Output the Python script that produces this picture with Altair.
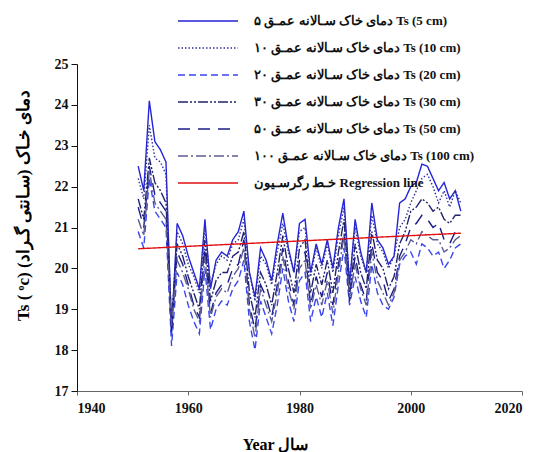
import altair as alt
import pandas as pd

years = list(range(1951, 2010))

ts5 = [22.5, 21.9, 24.1, 23.1, 22.9, 22.6, 18.4, 21.1, 20.8, 20.3,
       19.9, 19.5, 21.2, 19.5, 20.2, 20.4, 20.3, 20.7, 20.9, 21.4,
       19.9, 19.3, 20.5, 20.2, 19.7, 20.6, 21.35, 20.5, 19.9, 21.1,
       21.2, 19.9, 20.6, 20.1, 20.7, 20.0, 21.0, 21.7, 19.6, 21.2,
       20.4, 19.9, 21.6, 20.7, 20.5, 20.1, 20.3, 21.6, 21.7, 22.0,
       22.1, 22.55, 22.5, 22.2, 21.9, 22.1, 21.7, 21.9, 21.4]
ts10 = [22.2, 21.7, 23.5, 22.7, 22.6, 22.3, 18.6, 20.9, 20.6, 20.1,
        19.8, 19.4, 21.0, 19.6, 20.1, 20.3, 20.2, 20.6, 20.7, 21.2,
        19.9, 19.2, 20.3, 20.1, 19.6, 20.4, 21.1, 20.4, 19.9, 20.9,
        21.0, 19.8, 20.5, 20.0, 20.6, 19.9, 20.8, 21.5, 19.7, 21.0,
        20.3, 19.9, 21.3, 20.6, 20.4, 20.0, 20.3, 21.0, 21.2, 21.6,
        21.9, 22.2, 22.3, 22.0, 21.6, 21.9, 21.5, 21.9, 21.6]
ts20 = [20.9, 20.5, 22.2, 21.4, 21.2, 21.0, 18.1, 19.9, 19.6, 19.1,
        18.7, 18.4, 20.0, 18.5, 19.0, 19.2, 19.1, 19.5, 19.7, 20.2,
        18.7, 18.0, 19.2, 18.8, 18.4, 19.1, 20.0, 19.2, 18.7, 19.7,
        19.9, 18.7, 19.3, 18.8, 19.4, 18.6, 19.6, 20.5, 19.1, 19.8,
        19.2, 18.8, 20.1, 19.4, 19.1, 19.0, 19.3, 20.1, 20.3, 20.4,
        20.1, 20.6, 20.5, 20.3, 20.4, 20.0, 20.2, 20.5, 20.6]
ts30 = [21.7, 21.2, 22.7, 22.1, 21.9, 21.6, 18.7, 20.6, 20.3, 19.8,
        19.4, 19.0, 20.7, 19.2, 19.7, 19.9, 19.9, 20.3, 20.4, 20.9,
        19.4, 18.8, 19.9, 19.6, 19.1, 19.9, 20.8, 20.0, 19.4, 20.5,
        20.7, 19.4, 20.1, 19.6, 20.2, 19.4, 20.4, 21.2, 19.3, 20.6,
        19.9, 19.5, 20.9, 20.2, 20.0, 19.5, 19.8, 20.6, 20.9, 21.4,
        21.5, 21.7, 21.6, 21.4, 21.5, 21.2, 21.1, 21.3, 21.3]
ts50 = [21.5, 21.0, 22.5, 21.8, 21.6, 21.4, 18.4, 20.4, 20.1, 19.6,
        19.1, 18.8, 20.5, 18.9, 19.4, 19.6, 19.6, 20.0, 20.1, 20.7,
        19.1, 18.5, 19.6, 19.3, 18.8, 19.6, 20.5, 19.7, 19.1, 20.2,
        20.4, 19.1, 19.8, 19.3, 19.9, 19.1, 20.1, 20.9, 19.2, 20.3,
        19.6, 19.2, 20.6, 19.9, 19.7, 19.2, 19.5, 20.3, 20.6, 21.0,
        21.1, 21.3, 21.2, 21.0, 21.1, 20.7, 20.6, 20.9, 21.0]
ts100 = [21.2, 20.8, 22.4, 21.6, 21.4, 21.2, 18.6, 20.2, 19.9, 19.5,
         19.0, 18.7, 20.3, 18.8, 19.3, 19.5, 19.4, 19.8, 20.0, 20.5,
         19.0, 18.3, 19.5, 19.1, 18.7, 19.4, 20.3, 19.5, 19.0, 20.0,
         20.2, 19.0, 19.6, 19.1, 19.7, 18.9, 19.9, 20.8, 19.3, 20.1,
         19.5, 19.1, 20.4, 19.7, 19.4, 19.1, 19.4, 20.2, 20.4, 20.7,
         20.6, 20.9, 20.8, 20.7, 20.7, 20.4, 20.5, 20.7, 20.8]

reg_years = [1951, 2009]
reg_values = [20.48, 20.86]

LRM = "\u200e"
labels = [
    LRM + "دمای خاک سـالانه عمـق ۵" + LRM + "   Ts (5 cm)",
    LRM + "دمای خاک سـالانه عمـق ۱۰" + LRM + "   Ts (10 cm)",
    LRM + "دمای خاک سـالانه عمـق ۲۰" + LRM + "    Ts (20 cm)",
    LRM + "دمای خاک سـالانه عمـق ۳۰" + LRM + "    Ts (30 cm)",
    LRM + "دمای خاک سـالانه عمـق ۵۰" + LRM + "    Ts (50 cm)",
    LRM + "دمای خاک سـالانه عمـق ۱۰۰" + LRM + "    Ts (100 cm)",
    LRM + "خـط رگرسـیون" + LRM + "  Regression line",
]

series_values = [ts5, ts10, ts20, ts30, ts50, ts100]

rows = []
for lab, vals in zip(labels[:6], series_values):
    for yr, v in zip(years, vals):
        rows.append({"year": yr, "value": v, "series": lab})
for yr, v in zip(reg_years, reg_values):
    rows.append({"year": yr, "value": v, "series": labels[6]})
df = pd.DataFrame(rows)

color_range = ["#2424d8", "#30309a", "#3a46f0", "#22226e", "#1c1c8a", "#5c5c92", "#e01010"]
dash_range = [[1, 0], [1.5, 2], [7, 4], [10, 2, 2, 2, 2, 2], [12, 8], [10, 3, 2, 3], [1, 0]]

serif = "Liberation Serif"

chart = alt.Chart(df).mark_line(strokeWidth=1.4).encode(
    x=alt.X("year:Q",
            scale=alt.Scale(domain=[1940, 2020], nice=False),
            axis=alt.Axis(values=[1940, 1960, 1980, 2000, 2020], format="d",
                          title="Year   سال", titleX=198, titleY=58,
                          titleAnchor="start", titleAlign="center",
                          titleBaseline="alphabetic",
                          titleFont=serif, titleFontSize=16, titleFontWeight="bold",
                          labelFont=serif, labelFontSize=14, labelFontWeight="bold",
                          labelColor="#111", labelPadding=6,
                          domainColor="#666", tickColor="#666", tickSize=4,
                          grid=False)),
    y=alt.Y("value:Q",
            scale=alt.Scale(domain=[17, 25], nice=False, zero=False),
            axis=alt.Axis(values=list(range(17, 26)),
                          title="Ts ( ᵒc)       دمای خـاک (سـانتی گـراد)",
                          titleAngle=-90, titleX=-54, titleY=141,
                          titleAlign="center", titleBaseline="middle",
                          titleFont=serif, titleFontSize=17, titleFontWeight="bold",
                          labelFont=serif, labelFontSize=14, labelFontWeight="bold",
                          labelColor="#111", labelPadding=3,
                          domainColor="#111", tickColor="#111", tickSize=6,
                          grid=False)),
    color=alt.Color("series:N", scale=alt.Scale(domain=labels, range=color_range), title=None),
    strokeDash=alt.StrokeDash("series:N", scale=alt.Scale(domain=labels, range=dash_range), title=None),
).properties(
    width=445, height=327,
    autosize=alt.AutoSizeParams(type="none"),
    padding={"left": 69, "top": 56, "right": 8, "bottom": 61},
).configure_view(
    stroke=None
).configure_legend(
    orient="none", legendX=120, legendY=-54,
    symbolType="M-3,0H3", symbolSize=400, symbolStrokeWidth=1.4,
    labelFont=serif, labelFontSize=13, labelFontWeight="bold", labelColor="#111",
    labelOffset=35, rowPadding=9, padding=0, labelLimit=400,
)

chart.save("out.html", embed_options={"renderer": "svg", "actions": False})
